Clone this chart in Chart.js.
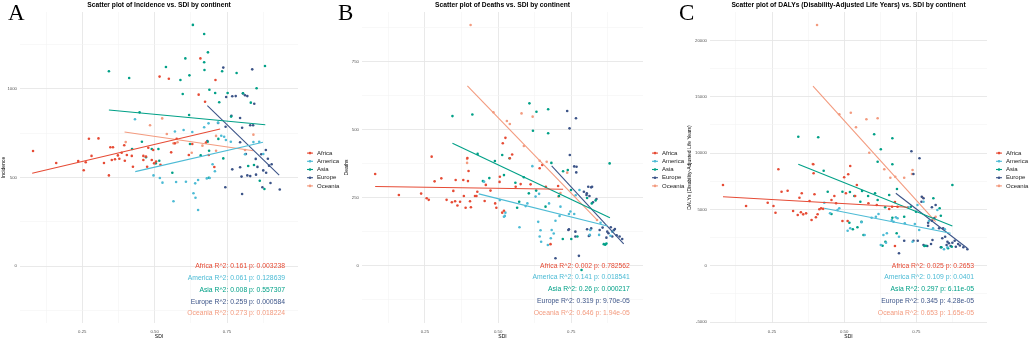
<!DOCTYPE html>
<html>
<head>
<meta charset="utf-8">
<script src="https://cdn.jsdelivr.net/npm/chart.js@4.4.1/dist/chart.umd.min.js"></script>
<style>
  body { margin: 0; background: #fff; }
  #wrap { position: relative; width: 1029px; height: 341px; overflow: hidden; }
  canvas { position: absolute; top: 0; }
  .letter { position: absolute; top: 1px; font-family: "Liberation Serif", "Times New Roman", serif; font-size: 23px; line-height: 23px; color: #000; }
</style>
</head>
<body>
<div id="wrap">
  <canvas id="panelA" width="343" height="341" style="left:0px"></canvas>
  <canvas id="panelB" width="343" height="341" style="left:343px"></canvas>
  <canvas id="panelC" width="343" height="341" style="left:686px"></canvas>
  <div class="letter" style="left:8px">A</div>
  <div class="letter" style="left:338px">B</div>
  <div class="letter" style="left:679px">C</div>
</div>
<script>
// Continents and their colours (npg palette)
const continents = ['Africa', 'America', 'Asia', 'Europe', 'Oceania'];
const continentColors = ['#E64B35', '#4DBBD5', '#00A087', '#3C5488', '#F39B7F'];

// SDI axis
const sdiTicks = [0.125, 0.25, 0.375, 0.5, 0.625, 0.75, 0.875];
const sdiLabels = [0.25, 0.5, 0.75];

// ---- Panel A: Incidence vs SDI, points are [SDI, value]
const incidenceAfrica = [[0.08,650],[0.16,582],[0.236,593],[0.255,541],[0.262,586],[0.273,719],[0.282,622],[0.306,721],[0.325,582],[0.342,512],[0.347,671],[0.352,599],[0.356,671],[0.363,603],[0.373,625],[0.378,606],[0.386,640],[0.395,682],[0.397,595],[0.404,627],[0.421,622],[0.425,561],[0.461,622],[0.461,599],[0.47,618],[0.474,561],[0.478,668],[0.49,599],[0.495,655],[0.498,580],[0.505,590],[0.517,1070],[0.52,572],[0.549,1058],[0.557,642],[0.57,693],[0.576,719],[0.618,627],[0.63,689],[0.652,968],[0.658,1173],[0.674,928],[0.677,697],[0.687,627],[0.706,559],[0.71,1051]];
const incidenceAmerica = [[0.432,829],[0.496,512],[0.518,497],[0.527,471],[0.565,366],[0.574,475],[0.57,760],[0.6,768],[0.608,476],[0.63,757],[0.634,411],[0.641,386],[0.64,467],[0.65,316],[0.65,486],[0.671,784],[0.68,495],[0.686,806],[0.69,497],[0.7,575],[0.708,535],[0.719,810],[0.73,736],[0.74,730],[0.746,712],[0.763,702],[0.812,631],[0.841,700],[0.861,702],[0.875,633]];
const incidenceAsia = [[0.342,1100],[0.412,1062],[0.422,661],[0.448,868],[0.456,702],[0.47,614],[0.49,661],[0.504,580],[0.513,661],[0.516,595],[0.539,1124],[0.561,527],[0.589,1051],[0.597,972],[0.606,1173],[0.619,853],[0.62,1077],[0.622,689],[0.632,1362],[0.659,625],[0.671,1311],[0.671,1151],[0.672,1107],[0.683,702],[0.684,1207],[0.687,499],[0.688,651],[0.689,996],[0.709,977],[0.72,718],[0.723,925],[0.733,1100],[0.737,608],[0.752,977],[0.764,844],[0.783,1090],[0.805,976],[0.823,565],[0.832,923],[0.843,571],[0.852,1004],[0.863,482],[0.879,435],[0.881,1130]];
const incidenceEurope = [[0.682,706],[0.719,808],[0.737,1121],[0.744,445],[0.745,787],[0.747,955],[0.765,849],[0.768,959],[0.768,546],[0.78,960],[0.795,836],[0.795,699],[0.795,558],[0.8,505],[0.802,781],[0.802,407],[0.805,975],[0.812,965],[0.815,633],[0.82,960],[0.82,512],[0.83,795],[0.83,508],[0.837,1111],[0.84,795],[0.844,917],[0.849,605],[0.85,516],[0.855,560],[0.868,631],[0.872,445],[0.875,540],[0.884,655],[0.885,527],[0.891,606],[0.895,567],[0.9,469],[0.904,575],[0.932,432]];
const incidenceOceania = [[0.4,700],[0.484,795],[0.526,834],[0.542,746],[0.565,693],[0.579,699],[0.628,640],[0.665,680],[0.712,651],[0.712,735],[0.812,655],[0.841,742]];
const incidenceFits = [[[0.077,524],[0.726,774]], [[0.433,533],[0.874,699]], [[0.342,881],[0.882,798]], [[0.682,906],[0.93,514]], [[0.396,757],[0.841,651]]];
const incidenceStats = ['Africa R^2: 0.161 p: 0.003238', 'America R^2: 0.061 p: 0.128639', 'Asia R^2: 0.008 p: 0.557307', 'Europe R^2: 0.259 p: 0.000584', 'Oceania R^2: 0.273 p: 0.018224'];
const incidenceTicks = [-250, 0, 250, 500, 750, 1000, 1250];
const incidenceLabels = [0, 500, 1000];

// ---- Panel B: Deaths vs SDI
const deathsAfrica = [[0.08,337],[0.161,260],[0.237,265],[0.256,248],[0.263,242],[0.273,401],[0.283,310],[0.306,321],[0.324,242],[0.342,233],[0.347,275],[0.353,237],[0.355,315],[0.361,221],[0.37,235],[0.381,315],[0.383,256],[0.389,213],[0.395,396],[0.397,311],[0.399,348],[0.404,237],[0.407,215],[0.421,256],[0.426,256],[0.429,272],[0.454,238],[0.458,297],[0.474,276],[0.49,229],[0.494,213],[0.505,308],[0.506,327],[0.514,195],[0.516,450],[0.52,202],[0.525,470],[0.54,395],[0.548,409],[0.56,290],[0.577,300],[0.611,299],[0.642,358],[0.651,370],[0.663,290],[0.679,79],[0.705,293]];
const deathsAmerica = [[0.452,309],[0.506,241],[0.52,180],[0.523,183],[0.525,195],[0.573,141],[0.594,219],[0.6,229],[0.617,366],[0.628,254],[0.637,161],[0.64,264],[0.642,107],[0.645,130],[0.647,88],[0.67,76],[0.674,229],[0.68,101],[0.683,131],[0.69,118],[0.696,165],[0.71,183],[0.713,217],[0.742,190],[0.747,199],[0.76,190],[0.765,259],[0.778,278],[0.813,113],[0.815,131],[0.845,113],[0.85,158],[0.884,110],[0.89,125]];
const deathsAsia = [[0.344,550],[0.412,556],[0.43,411],[0.448,311],[0.47,322],[0.489,385],[0.514,407],[0.52,333],[0.539,395],[0.559,305],[0.565,213],[0.572,235],[0.588,325],[0.605,266],[0.607,597],[0.619,496],[0.63,276],[0.631,566],[0.662,217],[0.671,575],[0.671,487],[0.682,378],[0.708,256],[0.721,98],[0.722,347],[0.738,352],[0.749,278],[0.75,98],[0.771,107],[0.785,-16],[0.804,249],[0.82,229],[0.833,240],[0.861,79],[0.866,77],[0.87,81],[0.881,376]];
const deathsEurope = [[0.696,27],[0.736,569],[0.74,131],[0.742,134],[0.744,505],[0.745,407],[0.76,365],[0.764,107],[0.764,125],[0.766,542],[0.767,343],[0.768,364],[0.776,36],[0.793,272],[0.802,260],[0.803,266],[0.804,134],[0.808,290],[0.81,109],[0.812,256],[0.813,112],[0.818,288],[0.818,137],[0.821,290],[0.824,233],[0.836,245],[0.847,131],[0.857,140],[0.87,103],[0.873,125],[0.877,119],[0.885,141],[0.89,107],[0.895,130],[0.899,135],[0.905,112],[0.915,107],[0.924,98]];
const deathsOceania = [[0.394,378],[0.394,392],[0.406,885],[0.484,564],[0.53,532],[0.54,521],[0.58,560],[0.588,440],[0.618,548],[0.642,386],[0.666,382],[0.706,254],[0.713,267],[0.736,342],[0.838,168]];
const deathsFits = [[[0.08,291],[0.722,281]], [[0.434,264],[0.873,146]], [[0.344,450],[0.882,176]], [[0.683,367],[0.929,80]], [[0.395,661],[0.838,168]]];
const deathsStats = ['Africa R^2: 0.002 p: 0.782562', 'America R^2: 0.141 p: 0.018541', 'Asia R^2: 0.26 p: 0.000217', 'Europe R^2: 0.319 p: 9.70e-05', 'Oceania R^2: 0.646 p: 1.94e-05'];
const deathsTicks = [-125, 0, 125, 250, 375, 500, 625, 750, 875];
const deathsLabels = [0, 250, 500, 750];

// ---- Panel C: DALYs vs SDI
const dalysAfrica = [[0.08,7166],[0.16,5301],[0.235,5594],[0.255,5301],[0.262,4706],[0.272,8560],[0.283,6571],[0.304,6660],[0.323,4857],[0.339,4500],[0.345,6038],[0.35,4742],[0.353,6429],[0.358,4560],[0.368,4650],[0.38,5745],[0.387,4058],[0.393,9004],[0.394,8205],[0.397,6340],[0.402,4298],[0.408,4564],[0.414,5008],[0.42,5097],[0.427,5050],[0.456,5830],[0.466,6189],[0.472,5541],[0.494,3969],[0.5,7850],[0.506,6429],[0.512,3969],[0.514,8116],[0.521,8853],[0.538,6189],[0.544,7166],[0.584,5541],[0.613,5390],[0.656,5035],[0.666,5239],[0.676,1749],[0.676,5656],[0.685,5239]];
const dalysAmerica = [[0.431,5594],[0.451,4653],[0.477,4946],[0.483,5097],[0.512,3108],[0.521,3321],[0.56,3854],[0.571,2726],[0.595,4262],[0.61,4351],[0.619,4591],[0.627,1838],[0.636,2726],[0.645,2042],[0.648,2877],[0.665,4058],[0.671,3907],[0.679,4298],[0.685,4209],[0.69,2575],[0.71,3765],[0.722,5186],[0.737,2131],[0.745,3703],[0.754,5390],[0.76,3170],[0.775,5683],[0.794,3996],[0.808,3321],[0.823,4946],[0.846,1456],[0.849,3232],[0.858,1634]];
const dalysAsia = [[0.341,11455],[0.41,11402],[0.429,8436],[0.443,6571],[0.456,4591],[0.494,6571],[0.518,3818],[0.52,6545],[0.53,3232],[0.535,6189],[0.546,3410],[0.556,5683],[0.56,3907],[0.562,6633],[0.567,2726],[0.583,6189],[0.604,11668],[0.607,6429],[0.616,9235],[0.616,5834],[0.627,10336],[0.633,1776],[0.642,5186],[0.643,2131],[0.656,6278],[0.667,11313],[0.667,9004],[0.667,4262],[0.682,2877],[0.683,6811],[0.708,4351],[0.731,5239],[0.749,4795],[0.778,1749],[0.783,1776],[0.809,5985],[0.831,5097],[0.835,4440],[0.837,1634],[0.86,1545],[0.873,1687],[0.875,7166]];
const dalysEurope = [[0.69,1101],[0.708,2220],[0.733,10159],[0.74,8143],[0.74,2220],[0.755,2220],[0.761,9537],[0.768,5683],[0.769,6127],[0.775,5985],[0.775,1838],[0.788,1749],[0.791,3552],[0.791,3818],[0.801,1927],[0.804,5186],[0.804,3996],[0.806,2282],[0.812,4209],[0.817,5390],[0.829,3321],[0.835,1634],[0.84,2433],[0.843,3321],[0.85,2575],[0.855,1838],[0.858,2131],[0.863,1989],[0.869,1749],[0.875,2042],[0.883,2220],[0.887,1687],[0.895,1927],[0.901,1800],[0.913,1634],[0.927,1456]];
const dalysOceania = [[0.391,9031],[0.406,21374],[0.483,13444],[0.523,13586],[0.541,12290],[0.577,13000],[0.587,10034],[0.616,13089],[0.639,8560],[0.66,7814],[0.677,7903],[0.708,7814],[0.735,8143],[0.737,8500],[0.771,6074],[0.806,4058],[0.817,4351]];
const dalysFits = [[[0.08,6127],[0.722,5186]], [[0.431,5097],[0.869,2877]], [[0.341,9004],[0.875,3525]], [[0.679,6429],[0.927,1545]], [[0.392,15957],[0.817,3907]]];
const dalysStats = ['Africa R^2: 0.025 p: 0.2653', 'America R^2: 0.109 p: 0.0401', 'Asia R^2: 0.297 p: 6.11e-05', 'Europe R^2: 0.345 p: 4.28e-05', 'Oceania R^2: 0.653 p: 1.65e-05'];
const dalysTicks = [-5000, -2500, 0, 2500, 5000, 7500, 10000, 12500, 15000, 17500, 20000];
const dalysLabels = [-5000, 0, 5000, 10000, 15000, 20000];

Chart.defaults.font.family = '"Liberation Sans", Arial, sans-serif';
Chart.defaults.animation = false;

// Title, legend and R^2 annotations drawn on top of each panel
const decor = {
  id: 'decor',
  afterDraw(chart, args, opts) {
    const ctx = chart.ctx;
    const a = chart.chartArea;
    const xs = chart.scales.x, ys = chart.scales.y;
    ctx.save();
    ctx.textBaseline = 'middle';

    ctx.font = 'bold 6.7px "Liberation Sans"';
    ctx.fillStyle = '#000';
    ctx.textAlign = 'center';
    ctx.fillText(opts.title, (a.left + a.right) / 2, 5);

    const mid = (a.top + a.bottom) / 2 + 2;
    continents.forEach((name, i) => {
      const ly = mid + (i - 2) * 8.2;
      const lx = a.right + 9;
      ctx.strokeStyle = continentColors[i];
      ctx.lineWidth = 1.1;
      ctx.beginPath();
      ctx.moveTo(lx, ly);
      ctx.lineTo(lx + 6, ly);
      ctx.stroke();
      ctx.fillStyle = continentColors[i];
      ctx.beginPath();
      ctx.arc(lx + 3, ly, 1.3, 0, Math.PI * 2);
      ctx.fill();
      ctx.fillStyle = '#222';
      ctx.font = '6px "Liberation Sans"';
      ctx.textAlign = 'left';
      ctx.fillText(name, lx + 10, ly);
    });

    ctx.font = '6.8px "Liberation Sans"';
    ctx.textAlign = 'right';
    const sx = xs.getPixelForValue(0.95);
    const sy = ys.getPixelForValue(0);
    opts.stats.forEach((t, i) => {
      ctx.fillStyle = continentColors[i];
      ctx.fillText(t, sx, sy + i * 11.9);
    });
    ctx.restore();
  }
};

function toXY(list) {
  return list.map(p => ({ x: p[0], y: p[1] }));
}

function makePanel(id, cfg) {
  const datasets = [];
  cfg.points.forEach((pts, i) => {
    datasets.push({
      data: toXY(pts),
      backgroundColor: continentColors[i],
      borderWidth: 0,
      pointRadius: 1.3,
      order: 2
    });
  });
  cfg.fits.forEach((seg, i) => {
    datasets.push({
      data: toXY(seg),
      showLine: true,
      borderColor: continentColors[i],
      borderWidth: 1.1,
      pointRadius: 0,
      order: 1
    });
  });

  new Chart(document.getElementById(id), {
    type: 'scatter',
    data: { datasets: datasets },
    plugins: [decor],
    options: {
      responsive: false,
      layout: { padding: { left: 0, right: cfg.padRight, top: 12, bottom: 0 } },
      plugins: {
        legend: { display: false },
        tooltip: { enabled: false },
        decor: { title: cfg.title, stats: cfg.stats }
      },
      scales: {
        x: {
          type: 'linear',
          min: 0.035,
          max: 0.995,
          afterBuildTicks: s => { s.ticks = sdiTicks.map(v => ({ value: v })); },
          afterFit: s => { s.height = 18; },
          border: { display: false },
          grid: {
            drawTicks: false,
            color: c => sdiLabels.includes(c.tick.value) ? '#e6e6e6' : '#f3f3f3',
            lineWidth: c => sdiLabels.includes(c.tick.value) ? 0.9 : 0.6
          },
          ticks: {
            autoSkip: false,
            maxRotation: 0,
            padding: 6,
            color: '#555',
            font: { size: 4.3 },
            callback: v => sdiLabels.includes(v) ? v.toFixed(2) : ''
          },
          title: { display: true, text: 'SDI', color: '#000', font: { size: 5 }, padding: { top: 0, bottom: 1 } }
        },
        y: {
          type: 'linear',
          min: cfg.yMin,
          max: cfg.yMax,
          afterBuildTicks: s => { s.ticks = cfg.yTicks.map(v => ({ value: v })); },
          afterFit: s => { s.width = cfg.yWidth; },
          border: { display: false },
          grid: {
            drawTicks: false,
            color: c => cfg.yLabels.includes(c.tick.value) ? '#e6e6e6' : '#f3f3f3',
            lineWidth: c => cfg.yLabels.includes(c.tick.value) ? 0.9 : 0.6
          },
          ticks: {
            autoSkip: false,
            padding: 3,
            color: '#555',
            font: { size: 4.3 },
            callback: v => cfg.yLabels.includes(v) ? String(v) : ''
          },
          title: { display: true, text: cfg.yTitle, color: '#000', font: { size: 5 }, padding: { top: 1, bottom: 0 } }
        }
      }
    }
  });
}

makePanel('panelA', {
  title: 'Scatter plot of Incidence vs. SDI by continent',
  yTitle: 'Incidence',
  points: [incidenceAfrica, incidenceAmerica, incidenceAsia, incidenceEurope, incidenceOceania],
  fits: incidenceFits,
  stats: incidenceStats,
  yMin: -322, yMax: 1435,
  yTicks: incidenceTicks, yLabels: incidenceLabels,
  yWidth: 20, padRight: 45
});

makePanel('panelB', {
  title: 'Scatter plot of Deaths vs. SDI by continent',
  yTitle: 'Deaths',
  points: [deathsAfrica, deathsAmerica, deathsAsia, deathsEurope, deathsOceania],
  fits: deathsFits,
  stats: deathsStats,
  yMin: -211, yMax: 933,
  yTicks: deathsTicks, yLabels: deathsLabels,
  yWidth: 19, padRight: 43
});

makePanel('panelC', {
  title: 'Scatter plot of DALYs (Disability-Adjusted Life Years) vs. SDI by continent',
  yTitle: 'DALYs (Disability-Adjusted Life Years)',
  points: [dalysAfrica, dalysAmerica, dalysAsia, dalysEurope, dalysOceania],
  fits: dalysFits,
  stats: dalysStats,
  yMin: -5088, yMax: 22530,
  yTicks: dalysTicks, yLabels: dalysLabels,
  yWidth: 24, padRight: 42
});
</script>
</body>
</html>
